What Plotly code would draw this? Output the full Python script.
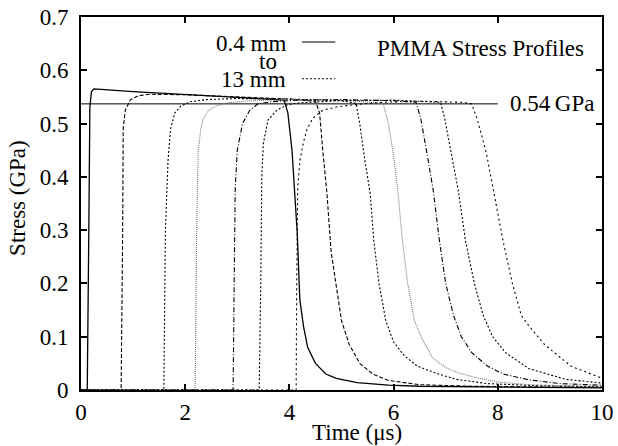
import plotly.graph_objects as go

# ---- data ----
# time (microseconds) and stress (GPa) for each gauge profile, 0.4 mm to 13 mm
t1 = [0.0, 0.12, 0.15, 0.17, 0.20, 0.25, 1.0, 2.0, 3.0, 3.9, 3.97, 4.05, 4.11, 4.15, 4.20, 4.27, 4.35, 4.50, 4.70, 4.90, 5.30, 5.90, 6.50, 7.5, 8.5, 10.0]
s1 = [0.0, 0.0, 0.30, 0.53, 0.560, 0.565, 0.560, 0.555, 0.549, 0.544, 0.52, 0.45, 0.357, 0.295, 0.17, 0.12, 0.08, 0.05, 0.03, 0.022, 0.014, 0.009, 0.007, 0.006, 0.005, 0.004]

t2 = [0.0, 0.77, 0.80, 0.81, 0.85, 0.95, 1.10, 1.30, 2.0, 3.0, 4.0, 4.50, 4.58, 4.64, 4.72, 4.80, 4.90, 5.00, 5.15, 5.35, 5.60, 5.90, 6.50, 7.5, 8.5, 10.0]
s2 = [0.0, 0.0, 0.30, 0.49, 0.525, 0.545, 0.552, 0.555, 0.554, 0.550, 0.546, 0.542, 0.52, 0.45, 0.37, 0.26, 0.19, 0.13, 0.085, 0.05, 0.03, 0.018, 0.010, 0.007, 0.006, 0.005]

t3 = [0.0, 1.59, 1.62, 1.67, 1.72, 1.80, 1.92, 2.10, 2.40, 3.0, 4.0, 5.0, 5.28, 5.35, 5.45, 5.55, 5.62, 5.72, 5.85, 6.00, 6.20, 6.45, 6.80, 7.20, 7.80, 8.8, 10.0]
s3 = [0.0, 0.0, 0.30, 0.43, 0.49, 0.52, 0.533, 0.541, 0.545, 0.547, 0.546, 0.543, 0.538, 0.50, 0.43, 0.37, 0.28, 0.20, 0.13, 0.09, 0.065, 0.045, 0.032, 0.020, 0.012, 0.008, 0.006]

t4 = [0.0, 2.19, 2.22, 2.25, 2.30, 2.34, 2.45, 2.60, 2.80, 3.30, 4.0, 5.0, 5.80, 5.90, 6.00, 6.08, 6.17, 6.27, 6.40, 6.55, 6.75, 7.00, 7.25, 7.55, 8.00, 8.60, 9.3, 10.0]
s4 = [0.0, 0.0, 0.30, 0.45, 0.49, 0.507, 0.525, 0.533, 0.539, 0.543, 0.545, 0.544, 0.538, 0.50, 0.44, 0.375, 0.28, 0.20, 0.13, 0.095, 0.06, 0.042, 0.032, 0.024, 0.015, 0.010, 0.008, 0.007]

t5 = [0.0, 2.92, 2.94, 2.96, 3.00, 3.10, 3.24, 3.40, 3.65, 4.20, 5.0, 6.0, 6.43, 6.52, 6.63, 6.76, 6.88, 7.00, 7.15, 7.30, 7.50, 7.80, 8.10, 8.60, 9.20, 10.0]
s5 = [0.0, 0.0, 0.20, 0.38, 0.45, 0.50, 0.525, 0.537, 0.541, 0.544, 0.545, 0.543, 0.540, 0.51, 0.45, 0.375, 0.28, 0.20, 0.14, 0.10, 0.07, 0.045, 0.030, 0.019, 0.012, 0.009]

t6 = [0.0, 3.42, 3.45, 3.47, 3.50, 3.59, 3.76, 3.95, 4.20, 5.0, 6.0, 6.90, 6.98, 7.10, 7.24, 7.38, 7.55, 7.72, 7.90, 8.15, 8.60, 9.30, 10.0]
s6 = [0.0, 0.0, 0.20, 0.40, 0.463, 0.507, 0.525, 0.535, 0.539, 0.543, 0.544, 0.540, 0.51, 0.45, 0.375, 0.28, 0.20, 0.14, 0.10, 0.07, 0.04, 0.020, 0.013]

t7 = [0.0, 4.13, 4.14, 4.16, 4.20, 4.27, 4.34, 4.45, 4.64, 4.90, 5.30, 5.80, 6.50, 7.30, 7.50, 7.60, 7.78, 7.92, 8.10, 8.28, 8.45, 8.60, 8.90, 9.40, 9.90, 10.0]
s7 = [0.0, 0.0, 0.20, 0.38, 0.43, 0.465, 0.49, 0.51, 0.525, 0.531, 0.536, 0.540, 0.542, 0.540, 0.537, 0.51, 0.445, 0.375, 0.28, 0.20, 0.14, 0.12, 0.085, 0.045, 0.025, 0.022]

reference_stress = 0.537          # GPa, horizontal reference line
reference_t_end = 8.0             # where that line stops
reference_label = "0.54\u2009GPa"

x_ticks = [0, 2, 4, 6, 8, 10]
y_ticks = [0, 0.1, 0.2, 0.3, 0.4, 0.5, 0.6, 0.7]
y_tick_text = ["0", "0.1", "0.2", "0.3", "0.4", "0.5", "0.6", "0.7"]

series = [
    (t1, s1, "solid", "black", 1.3),
    (t2, s2, "4px,2px", "black", 1.1),
    (t3, s3, "2px,2px", "black", 1.1),
    (t4, s4, "1px,1px", "#777777", 1.1),
    (t5, s5, "5px,2px,1px,2px", "black", 1.1),
    (t6, s6, "2px,2px", "black", 1.1),
    (t7, s7, "2px,3px", "black", 1.1),
]

FONT = "Liberation Serif"
FS = 23

fig = go.Figure()
fig.add_trace(go.Scatter(x=[0, reference_t_end], y=[reference_stress, reference_stress],
                         mode="lines", line=dict(color="black", width=1), showlegend=False,
                         hoverinfo="skip"))
for t, s, dash, col, w in series:
    fig.add_trace(go.Scatter(x=t, y=s, mode="lines",
                             line=dict(color=col, width=w, dash=dash),
                             showlegend=False))

# legend samples (custom, drawn as shapes)
fig.add_shape(type="line", x0=4.24, x1=4.88, y0=0.653, y1=0.653,
              line=dict(color="black", width=1.1))
fig.add_shape(type="line", x0=4.24, x1=4.88, y0=0.584, y1=0.584,
              line=dict(color="black", width=1.1, dash="2px,2px"))

ann_font = dict(family=FONT, size=FS, color="black")
fig.add_annotation(x=3.97, y=0.651, text="0.4 mm", showarrow=False, xanchor="right",
                   yanchor="middle", font=ann_font)
fig.add_annotation(x=3.59, y=0.617, text="to", showarrow=False, xanchor="center",
                   yanchor="middle", font=ann_font)
fig.add_annotation(x=3.97, y=0.582, text="13 mm", showarrow=False, xanchor="right",
                   yanchor="middle", font=ann_font)
fig.add_annotation(x=9.69, y=0.641, text="PMMA Stress Profiles", showarrow=False,
                   xanchor="right", yanchor="middle", font=ann_font)
fig.add_annotation(x=8.2, y=reference_stress, text=reference_label, showarrow=False,
                   xanchor="left", yanchor="middle", font=ann_font)

# axis titles
fig.add_annotation(x=(357 - 81) / 521, y=0.0, yref="paper", xref="paper",
                   yshift=-42, text="Time (\u03bcs)", showarrow=False,
                   xanchor="center", yanchor="middle", font=ann_font)
fig.add_annotation(x=0, xref="paper", y=0.515, yref="paper", xshift=-63,
                   text="Stress (GPa)", textangle=-90, showarrow=False,
                   xanchor="center", yanchor="middle", font=ann_font)

axis_common = dict(showline=True, linewidth=2, linecolor="black", mirror="ticks",
                   ticks="inside", ticklen=6, tickwidth=2, tickcolor="black",
                   showgrid=False, zeroline=False, automargin=False,
                   ticklabeloverflow="allow",
                   tickfont=dict(family=FONT, size=FS, color="black"))

fig.update_xaxes(range=[0, 10], tickvals=x_ticks, ticktext=[str(v) for v in x_ticks],
                 **axis_common)
fig.update_yaxes(range=[0, 0.7], tickvals=y_ticks, ticktext=y_tick_text,
                 ticklabelstandoff=6, **axis_common)

fig.update_layout(width=618, height=446, margin=dict(l=81, r=16, t=17, b=56),
                  plot_bgcolor="white", paper_bgcolor="white",
                  font=dict(family=FONT, size=FS, color="black"))

# remove the browser's default page margin so the 618x446 figure fills the window
fig.write_html("out.html", config={"displayModeBar": False},
               post_script="document.body.style.margin='0';document.body.style.overflow='hidden';")
